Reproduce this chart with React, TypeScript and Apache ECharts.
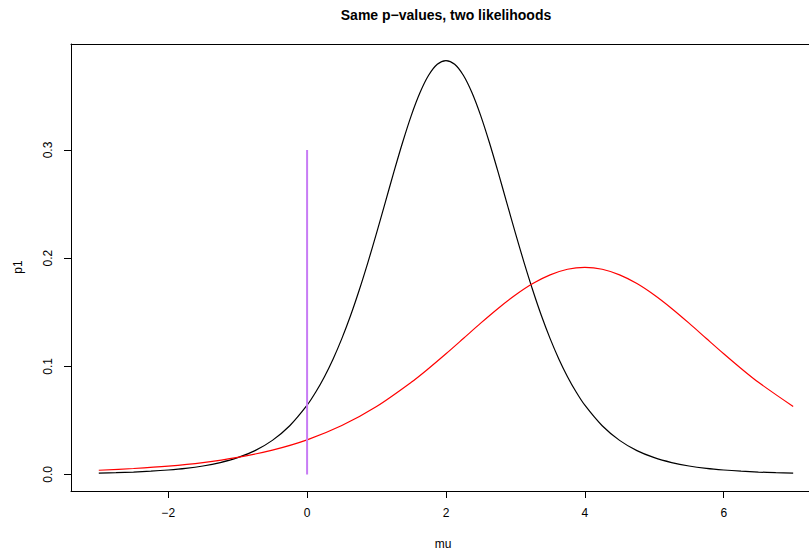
import React, { useEffect, useRef } from "react";
import * as echarts from "echarts";

const TITLE = "Same p\u2212values, two likelihoods";
const X_LABEL = "mu";
const Y_LABEL = "p1";

const blackX = [-3, -2.75, -2.5, -2.25, -2, -1.75, -1.5, -1.25, -1, -0.75, -0.5, -0.25, 0, 0.125, 0.25, 0.375, 0.5, 0.625, 0.75, 0.875, 1, 1.125, 1.25, 1.375, 1.5, 1.625, 1.75, 1.875, 2, 2.125, 2.25, 2.375, 2.5, 2.625, 2.75, 2.875, 3, 3.125, 3.25, 3.375, 3.5, 3.625, 3.75, 3.875, 4, 4.25, 4.5, 4.75, 5, 5.25, 5.5, 5.75, 6, 6.25, 6.5, 6.75, 7];
const blackY = [0.0012, 0.0016, 0.0022, 0.003, 0.0041, 0.0056, 0.0078, 0.011, 0.0155, 0.022, 0.0315, 0.045, 0.064, 0.0762, 0.0904, 0.1068, 0.1256, 0.1467, 0.1703, 0.1959, 0.2231, 0.2514, 0.2797, 0.3069, 0.3318, 0.3529, 0.3691, 0.3793, 0.3827, 0.3793, 0.3691, 0.3529, 0.3318, 0.3069, 0.2797, 0.2514, 0.2231, 0.1959, 0.1703, 0.1467, 0.1256, 0.1068, 0.0904, 0.0762, 0.064, 0.045, 0.0315, 0.022, 0.0155, 0.011, 0.0078, 0.0056, 0.0041, 0.003, 0.0022, 0.0016, 0.0012];

const redX = [-3, -2.5, -2, -1.5, -1, -0.5, 0, 0.5, 1, 1.5, 1.75, 2, 2.25, 2.5, 2.75, 3, 3.25, 3.5, 3.75, 4, 4.25, 4.5, 4.75, 5, 5.25, 5.5, 5.75, 6, 6.25, 6.5, 7];
const redY = [0.0039, 0.0055, 0.0077, 0.011, 0.0158, 0.0225, 0.032, 0.0452, 0.0628, 0.0852, 0.098, 0.1116, 0.1257, 0.1399, 0.1535, 0.1659, 0.1765, 0.1845, 0.1897, 0.1914, 0.1897, 0.1845, 0.1765, 0.1659, 0.1535, 0.1399, 0.1257, 0.1116, 0.098, 0.0852, 0.0628];

const vlineX = [0, 0];
const vlineY = [0, 0.3];

const xTicks = [-2, 0, 2, 4, 6];
const yTicks = [0, 0.1, 0.2, 0.3];

const FONT = "Liberation Sans, Arial, Helvetica, sans-serif";

export default function App() {
  const ref = useRef<HTMLDivElement>(null);
  useEffect(() => {
    document.body.style.margin = "0";
    const chart = echarts.init(ref.current!, undefined, { renderer: "svg" });
    const zip = (xs: number[], ys: number[]) => xs.map((x, i) => [x, ys[i]]);
    const X_MIN = -3.4;
    const X_MAX = 7.228;
    chart.setOption({
      animation: false,
      backgroundColor: "#ffffff",
      textStyle: { fontFamily: FONT },
      grid: { left: 71, top: 44, right: 0, height: 447, show: false },
      xAxis: [
        {
          type: "value",
          min: X_MIN,
          max: X_MAX,
          position: "bottom",
          axisLine: { show: true, onZero: false, lineStyle: { color: "#000", width: 1 } },
          splitLine: { show: false },
          axisTick: { show: true, inside: false, length: 7, customValues: xTicks, lineStyle: { color: "#000" } },
          axisLabel: {
            customValues: xTicks,
            margin: 16,
            fontSize: 12,
            color: "#000",
            fontFamily: FONT,
            formatter: (v: number) => String(v).replace("-", "\u2212"),
          },
        },
        {
          type: "value",
          min: X_MIN,
          max: X_MAX,
          position: "top",
          axisLine: { show: true, onZero: false, lineStyle: { color: "#000", width: 1 } },
          splitLine: { show: false },
          axisTick: { show: false },
          axisLabel: { show: false },
        },
      ],
      yAxis: {
        type: "value",
        min: -0.0153,
        max: 0.398,
        axisLine: { show: true, onZero: false, lineStyle: { color: "#000", width: 1 } },
        splitLine: { show: false },
        axisTick: { show: true, inside: false, length: 7, customValues: yTicks, lineStyle: { color: "#000" } },
        axisLabel: {
          customValues: yTicks,
          rotate: 90,
          margin: 17,
          fontSize: 12,
          color: "#000",
          fontFamily: FONT,
          formatter: (v: number) => v.toFixed(1),
        },
      },
      graphic: [
        { type: "text", x: 446, y: 15, style: { text: TITLE, fontSize: 14, fontWeight: "bold", fontFamily: FONT, fill: "#000", align: "center", verticalAlign: "middle" } },
        { type: "text", x: 443, y: 544, style: { text: X_LABEL, fontSize: 12, fontFamily: FONT, fill: "#000", align: "center", verticalAlign: "middle" } },
        { type: "text", x: 18, y: 267, rotation: Math.PI / 2, style: { text: Y_LABEL, fontSize: 12, fontFamily: FONT, fill: "#000", align: "center", verticalAlign: "middle" } },
      ],
      series: [
        { type: "line", data: zip(blackX, blackY), showSymbol: false, smooth: 0.3, lineStyle: { color: "#000", width: 1.2 } },
        { type: "line", data: zip(redX, redY), showSymbol: false, smooth: 0.3, lineStyle: { color: "#ff0000", width: 1.2 } },
        { type: "line", data: zip(vlineX, vlineY), showSymbol: false, lineStyle: { color: "#c77cf5", width: 2 } },
      ],
    });
    return () => chart.dispose();
  }, []);
  return <div ref={ref} style={{ width: 809, height: 551 }} />;
}
